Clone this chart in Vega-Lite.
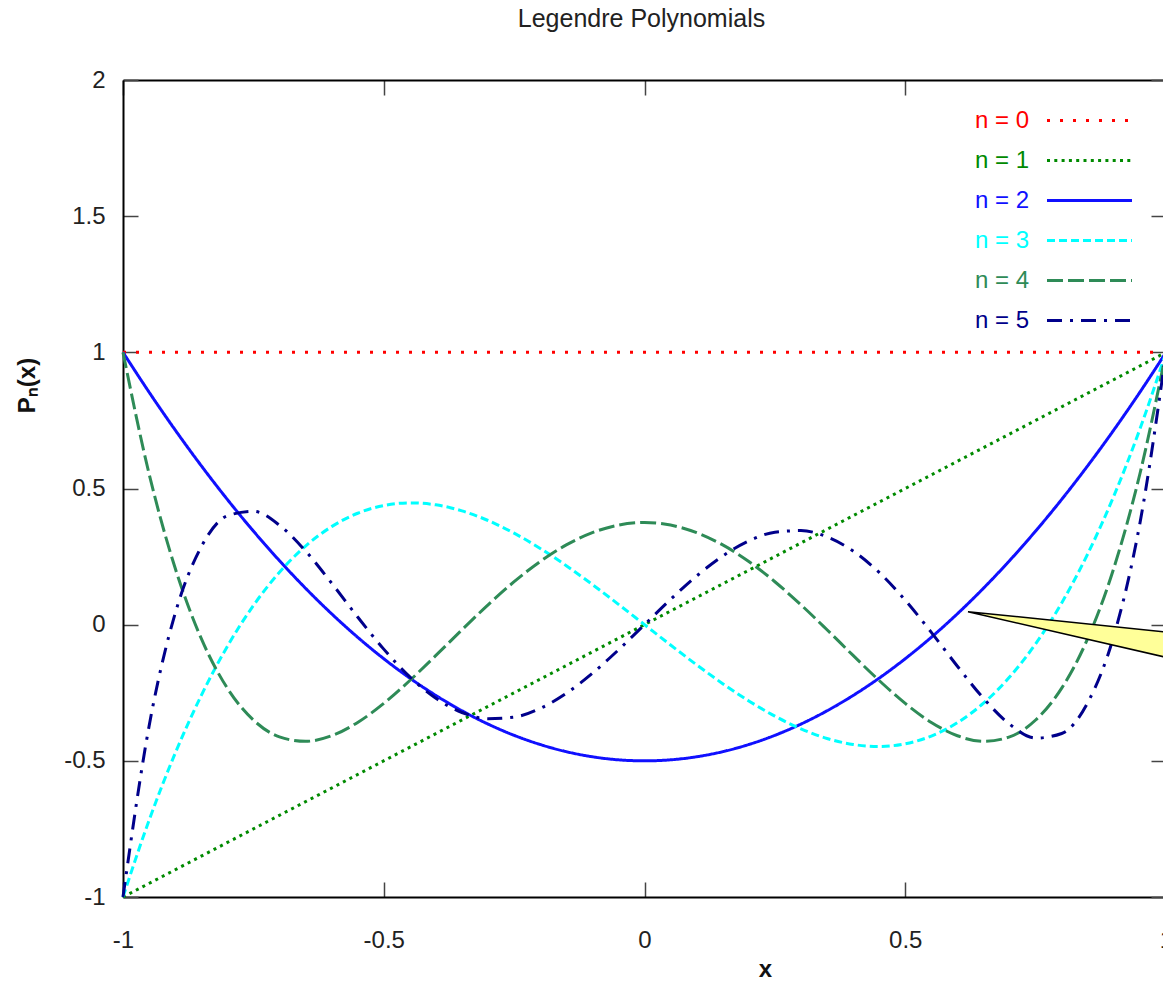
{
"$schema": "https://vega.github.io/schema/vega-lite/v6.json",
"width": 1043, "height": 817,
"autosize": {"type": "none"},
"padding": {"left": 123, "top": 80, "right": 0, "bottom": 84},
"background": "white",
"config": {"font": "Liberation Sans", "view": {"stroke": null}},
"title": {"text": "Legendre Polynomials", "fontSize": 25, "fontWeight": "normal", "font": "Liberation Sans", "color": "#222", "frame": "group", "anchor": "middle", "baseline": "middle", "offset": 24, "dx": -3},
"datasets": {
"poly": [
{"n":"n = 0","x":-1,"y":1},{"n":"n = 0","x":1,"y":1},
{"n":"n = 1","x":-1,"y":-1},{"n":"n = 1","x":1,"y":1},
{"n":"n = 2","x":-1,"y":1},{"n":"n = 2","x":-0.95,"y":0.8538},{"n":"n = 2","x":-0.9,"y":0.715},{"n":"n = 2","x":-0.85,"y":0.5838},{"n":"n = 2","x":-0.8,"y":0.46},{"n":"n = 2","x":-0.75,"y":0.3438},{"n":"n = 2","x":-0.7,"y":0.235},{"n":"n = 2","x":-0.65,"y":0.1338},{"n":"n = 2","x":-0.6,"y":0.04},{"n":"n = 2","x":-0.55,"y":-0.0463},{"n":"n = 2","x":-0.5,"y":-0.125},{"n":"n = 2","x":-0.45,"y":-0.1963},{"n":"n = 2","x":-0.4,"y":-0.26},{"n":"n = 2","x":-0.35,"y":-0.3163},{"n":"n = 2","x":-0.3,"y":-0.365},{"n":"n = 2","x":-0.25,"y":-0.4063},{"n":"n = 2","x":-0.2,"y":-0.44},{"n":"n = 2","x":-0.15,"y":-0.4663},{"n":"n = 2","x":-0.1,"y":-0.485},{"n":"n = 2","x":-0.05,"y":-0.4963},{"n":"n = 2","x":0,"y":-0.5},{"n":"n = 2","x":0.05,"y":-0.4963},{"n":"n = 2","x":0.1,"y":-0.485},{"n":"n = 2","x":0.15,"y":-0.4663},{"n":"n = 2","x":0.2,"y":-0.44},{"n":"n = 2","x":0.25,"y":-0.4063},{"n":"n = 2","x":0.3,"y":-0.365},{"n":"n = 2","x":0.35,"y":-0.3163},{"n":"n = 2","x":0.4,"y":-0.26},{"n":"n = 2","x":0.45,"y":-0.1963},{"n":"n = 2","x":0.5,"y":-0.125},{"n":"n = 2","x":0.55,"y":-0.0463},{"n":"n = 2","x":0.6,"y":0.04},{"n":"n = 2","x":0.65,"y":0.1338},{"n":"n = 2","x":0.7,"y":0.235},{"n":"n = 2","x":0.75,"y":0.3438},{"n":"n = 2","x":0.8,"y":0.46},{"n":"n = 2","x":0.85,"y":0.5838},{"n":"n = 2","x":0.9,"y":0.715},{"n":"n = 2","x":0.95,"y":0.8538},{"n":"n = 2","x":1,"y":1},
{"n":"n = 3","x":-1,"y":-1},{"n":"n = 3","x":-0.95,"y":-0.7184},{"n":"n = 3","x":-0.9,"y":-0.4725},{"n":"n = 3","x":-0.85,"y":-0.2603},{"n":"n = 3","x":-0.8,"y":-0.08},{"n":"n = 3","x":-0.75,"y":0.0703},{"n":"n = 3","x":-0.7,"y":0.1925},{"n":"n = 3","x":-0.65,"y":0.2884},{"n":"n = 3","x":-0.6,"y":0.36},{"n":"n = 3","x":-0.55,"y":0.4091},{"n":"n = 3","x":-0.5,"y":0.4375},{"n":"n = 3","x":-0.45,"y":0.4472},{"n":"n = 3","x":-0.4,"y":0.44},{"n":"n = 3","x":-0.35,"y":0.4178},{"n":"n = 3","x":-0.3,"y":0.3825},{"n":"n = 3","x":-0.25,"y":0.3359},{"n":"n = 3","x":-0.2,"y":0.28},{"n":"n = 3","x":-0.15,"y":0.2166},{"n":"n = 3","x":-0.1,"y":0.1475},{"n":"n = 3","x":-0.05,"y":0.0747},{"n":"n = 3","x":0,"y":0},{"n":"n = 3","x":0.05,"y":-0.0747},{"n":"n = 3","x":0.1,"y":-0.1475},{"n":"n = 3","x":0.15,"y":-0.2166},{"n":"n = 3","x":0.2,"y":-0.28},{"n":"n = 3","x":0.25,"y":-0.3359},{"n":"n = 3","x":0.3,"y":-0.3825},{"n":"n = 3","x":0.35,"y":-0.4178},{"n":"n = 3","x":0.4,"y":-0.44},{"n":"n = 3","x":0.45,"y":-0.4472},{"n":"n = 3","x":0.5,"y":-0.4375},{"n":"n = 3","x":0.55,"y":-0.4091},{"n":"n = 3","x":0.6,"y":-0.36},{"n":"n = 3","x":0.65,"y":-0.2884},{"n":"n = 3","x":0.7,"y":-0.1925},{"n":"n = 3","x":0.75,"y":-0.0703},{"n":"n = 3","x":0.8,"y":0.08},{"n":"n = 3","x":0.85,"y":0.2603},{"n":"n = 3","x":0.9,"y":0.4725},{"n":"n = 3","x":0.95,"y":0.7184},{"n":"n = 3","x":1,"y":1},
{"n":"n = 4","x":-1,"y":1},{"n":"n = 4","x":-0.95,"y":0.5541},{"n":"n = 4","x":-0.9,"y":0.2079},{"n":"n = 4","x":-0.85,"y":-0.0506},{"n":"n = 4","x":-0.8,"y":-0.233},{"n":"n = 4","x":-0.75,"y":-0.3501},{"n":"n = 4","x":-0.7,"y":-0.4121},{"n":"n = 4","x":-0.65,"y":-0.4284},{"n":"n = 4","x":-0.6,"y":-0.408},{"n":"n = 4","x":-0.55,"y":-0.359},{"n":"n = 4","x":-0.5,"y":-0.2891},{"n":"n = 4","x":-0.45,"y":-0.205},{"n":"n = 4","x":-0.4,"y":-0.113},{"n":"n = 4","x":-0.35,"y":-0.0187},{"n":"n = 4","x":-0.3,"y":0.0729},{"n":"n = 4","x":-0.25,"y":0.1577},{"n":"n = 4","x":-0.2,"y":0.232},{"n":"n = 4","x":-0.15,"y":0.2928},{"n":"n = 4","x":-0.1,"y":0.3379},{"n":"n = 4","x":-0.05,"y":0.3657},{"n":"n = 4","x":0,"y":0.375},{"n":"n = 4","x":0.05,"y":0.3657},{"n":"n = 4","x":0.1,"y":0.3379},{"n":"n = 4","x":0.15,"y":0.2928},{"n":"n = 4","x":0.2,"y":0.232},{"n":"n = 4","x":0.25,"y":0.1577},{"n":"n = 4","x":0.3,"y":0.0729},{"n":"n = 4","x":0.35,"y":-0.0187},{"n":"n = 4","x":0.4,"y":-0.113},{"n":"n = 4","x":0.45,"y":-0.205},{"n":"n = 4","x":0.5,"y":-0.2891},{"n":"n = 4","x":0.55,"y":-0.359},{"n":"n = 4","x":0.6,"y":-0.408},{"n":"n = 4","x":0.65,"y":-0.4284},{"n":"n = 4","x":0.7,"y":-0.4121},{"n":"n = 4","x":0.75,"y":-0.3501},{"n":"n = 4","x":0.8,"y":-0.233},{"n":"n = 4","x":0.85,"y":-0.0506},{"n":"n = 4","x":0.9,"y":0.2079},{"n":"n = 4","x":0.95,"y":0.5541},{"n":"n = 4","x":1,"y":1},
{"n":"n = 5","x":-1,"y":-1},{"n":"n = 5","x":-0.95,"y":-0.3727},{"n":"n = 5","x":-0.9,"y":0.0411},{"n":"n = 5","x":-0.85,"y":0.2857},{"n":"n = 5","x":-0.8,"y":0.3995},{"n":"n = 5","x":-0.75,"y":0.4164},{"n":"n = 5","x":-0.7,"y":0.3652},{"n":"n = 5","x":-0.65,"y":0.2705},{"n":"n = 5","x":-0.6,"y":0.1526},{"n":"n = 5","x":-0.55,"y":0.0282},{"n":"n = 5","x":-0.5,"y":-0.0898},{"n":"n = 5","x":-0.45,"y":-0.1917},{"n":"n = 5","x":-0.4,"y":-0.2706},{"n":"n = 5","x":-0.35,"y":-0.3225},{"n":"n = 5","x":-0.3,"y":-0.3454},{"n":"n = 5","x":-0.25,"y":-0.3397},{"n":"n = 5","x":-0.2,"y":-0.3075},{"n":"n = 5","x":-0.15,"y":-0.2523},{"n":"n = 5","x":-0.1,"y":-0.1788},{"n":"n = 5","x":-0.05,"y":-0.0927},{"n":"n = 5","x":0,"y":0},{"n":"n = 5","x":0.05,"y":0.0927},{"n":"n = 5","x":0.1,"y":0.1788},{"n":"n = 5","x":0.15,"y":0.2523},{"n":"n = 5","x":0.2,"y":0.3075},{"n":"n = 5","x":0.25,"y":0.3397},{"n":"n = 5","x":0.3,"y":0.3454},{"n":"n = 5","x":0.35,"y":0.3225},{"n":"n = 5","x":0.4,"y":0.2706},{"n":"n = 5","x":0.45,"y":0.1917},{"n":"n = 5","x":0.5,"y":0.0898},{"n":"n = 5","x":0.55,"y":-0.0282},{"n":"n = 5","x":0.6,"y":-0.1526},{"n":"n = 5","x":0.65,"y":-0.2705},{"n":"n = 5","x":0.7,"y":-0.3652},{"n":"n = 5","x":0.75,"y":-0.4164},{"n":"n = 5","x":0.8,"y":-0.3995},{"n":"n = 5","x":0.85,"y":-0.2857},{"n":"n = 5","x":0.9,"y":-0.0411},{"n":"n = 5","x":0.95,"y":0.3727},{"n":"n = 5","x":1,"y":1}
],
"callout": [{"x":0.6203,"y":0.0477,"y2":0.0477},{"x":1.1,"y":-0.0465,"y2":-0.1641}]
},
"layer": [
{
"data": {"name": "poly"},
"mark": {"type": "line", "strokeWidth": 3, "interpolate": "monotone", "strokeCap": "butt"},
"encoding": {
"x": {"field": "x", "type": "quantitative", "scale": {"domain": [-1, 1], "nice": false, "zero": false},
 "axis": {"orient": "bottom", "values": [-1, -0.5, 0, 0.5, 1], "title": "x", "titleFont": "Liberation Sans", "titleFontSize": 24, "titleFontWeight": "bold", "titleColor": "#111", "titleX": 642, "titleY": 72, "titleBaseline": "middle", "titleAlign": "center", "labelFont": "Liberation Sans", "labelFontSize": 24, "labelColor": "#222", "labelPadding": 46, "tickSize": -15, "tickColor": "#444", "tickWidth": 1.5, "domainColor": "#000", "domainWidth": 2, "grid": false, "labelExpr": "replace(format(datum.value, '~g'), '−', '-')", "labelFlush": false, "labelOverlap": false, "labelBound": false}},
"y": {"field": "y", "type": "quantitative", "scale": {"domain": [-1, 2], "nice": false, "zero": false},
 "axis": {"orient": "left", "values": [-1, -0.5, 0, 0.5, 1, 1.5, 2], "title": "Pₙ(x)", "titleFont": "Liberation Sans", "titleFontSize": 24, "titleFontWeight": "bold", "titleColor": "#111", "titleX": -96, "titleY": 305, "titleAngle": 270, "titleBaseline": "middle", "titleAlign": "center", "labelFont": "Liberation Sans", "labelFontSize": 24, "labelColor": "#222", "labelPadding": 33, "tickSize": -15, "tickColor": "#444", "tickWidth": 1.5, "domainColor": "#000", "domainWidth": 2, "grid": false, "labelExpr": "replace(format(datum.value, '~g'), '−', '-')", "labelFlush": false, "labelOverlap": false, "labelBound": false}},
"color": {"field": "n", "type": "nominal",
 "scale": {"domain": ["n = 0", "n = 1", "n = 2", "n = 3", "n = 4", "n = 5"], "range": ["#ff0000", "#008a00", "#1010ff", "#00ffff", "#2e8b57", "#00008b"]},
 "legend": {"orient": "none", "legendX": 852, "legendY": 28.5, "title": null, "padding": 0, "rowPadding": 16, "symbolType": "stroke", "symbolSize": 7225, "symbolStrokeWidth": 3, "labelFont": "Liberation Sans", "labelFontSize": 24, "labelLimit": 300, "labelBaseline": "middle",
  "encode": {"labels": {"update": {"x": {"value": 0}, "y": {"value": 12}, "fill": {"scale": "color", "field": "value"}}}, "symbols": {"update": {"x": {"value": 114.5}, "y": {"value": 12}}}}}},
"strokeDash": {"field": "n", "type": "nominal",
 "scale": {"domain": ["n = 0", "n = 1", "n = 2", "n = 3", "n = 4", "n = 5"], "range": [[3, 10], [3, 4.3], [1, 0], [8, 4], [16, 5], [15, 8, 3, 8]]},
 "legend": {"orient": "none", "legendX": 852, "legendY": 28.5, "title": null, "padding": 0, "rowPadding": 16, "symbolType": "stroke", "symbolSize": 7225, "symbolStrokeWidth": 3, "labelFont": "Liberation Sans", "labelFontSize": 24, "labelLimit": 300, "labelBaseline": "middle",
  "encode": {"labels": {"update": {"x": {"value": 0}, "y": {"value": 12}, "fill": {"scale": "color", "field": "value"}}}, "symbols": {"update": {"x": {"value": 114.5}, "y": {"value": 12}}}}}}
}
},
{
"data": {"name": "callout"},
"mark": {"type": "area", "fill": "#ffff99", "fillOpacity": 1, "stroke": "#000", "strokeWidth": 1.5, "clip": true, "orient": "vertical"},
"encoding": {
"x": {"field": "x", "type": "quantitative", "scale": {"domain": [-1, 1], "nice": false, "zero": false},
 "axis": {"orient": "top", "values": [-1, -0.5, 0, 0.5, 1], "labels": false, "title": null, "tickSize": -15, "tickColor": "#444", "tickWidth": 1.5, "domainColor": "#000", "domainWidth": 2, "grid": false}},
"y": {"field": "y", "type": "quantitative", "scale": {"domain": [-1, 2], "nice": false, "zero": false},
 "axis": {"orient": "right", "values": [-1, -0.5, 0, 0.5, 1, 1.5, 2], "labels": false, "title": null, "tickSize": -15, "tickColor": "#444", "tickWidth": 1.5, "domainColor": "#000", "domainWidth": 2, "grid": false}},
"y2": {"field": "y2"}
}
}
],
"resolve": {"axis": {"x": "independent", "y": "independent"}}
}
